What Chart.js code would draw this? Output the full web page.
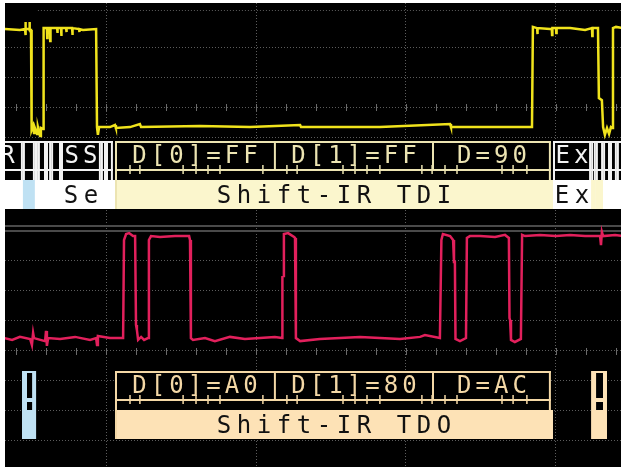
<!DOCTYPE html>
<html>
<head>
<meta charset="utf-8">
<script src="https://cdn.jsdelivr.net/npm/chart.js@4.4.1/dist/chart.umd.min.js"></script>
<style>
  html, body { margin: 0; padding: 0; background: #fff; }
  canvas { display: block; }
</style>
</head>
<body>
<canvas id="scope" width="624" height="470"></canvas>
<script>
// time in µs (5 µs per major division), levels in vertical divisions

// ---- channel 1 (yellow) ----
const ch1Time = [-3.40, -2.87, -2.70, -2.69, -2.68, -2.67, -2.56, -2.55, -2.54, -2.50, -2.48,
    -2.43, -2.40, -2.37, -2.30, -2.27, -2.20, -2.17, -2.10, -2.08,
    -1.97, -1.96, -1.95, -1.87, -1.86, -1.85, -1.70, -1.63, -1.62, -1.61, -1.50, -1.49, -1.48,
    -1.33, -1.32, -1.31, -1.13, -1.12, -1.11, -0.90, -0.89, -0.88, -0.77, -0.33, -0.30, -0.27, -0.23,
    0.13, 0.30, 0.33, 0.80, 1.13, 1.17, 3.13, 4.80, 6.47, 6.50, 9.13, 11.47, 11.50, 13.13, 14.20, 14.23,
    14.37, 14.38, 14.39, 14.80, 14.86, 14.87, 14.88, 15.00, 15.01, 15.02, 15.47, 15.97, 16.20, 16.21, 16.22, 16.40,
    16.43, 16.53, 16.57, 16.63, 16.70, 16.77, 16.83, 16.87, 16.90, 17.00, 17.27];
const ch1Level = [3.60, 3.57, 3.60, 3.83, 3.40, 3.60, 3.60, 3.83, 3.57, 3.57, 0.23,
    0.37, 0.13, 0.30, 0.10, 0.33, 0.03, 0.30, 0.27, 3.63,
    3.63, 3.30, 3.63, 3.63, 3.20, 3.63, 3.63, 3.63, 3.47, 3.63, 3.63, 3.37, 3.63,
    3.63, 3.50, 3.63, 3.63, 3.40, 3.63, 3.60, 3.50, 3.60, 3.57, 3.60, 0.33, 0.07, 0.33,
    0.33, 0.40, 0.30, 0.33, 0.43, 0.33, 0.37, 0.33, 0.40, 0.33, 0.33, 0.43, 0.33, 0.33, 0.33, 3.67,
    3.63, 3.43, 3.63, 3.60, 3.60, 3.40, 3.63, 3.63, 3.47, 3.63, 3.63, 3.57, 3.63, 3.37, 3.63, 3.63,
    1.30, 1.23, 0.33, 0.07, 0.30, 0.10, 0.33, 0.30, 3.63, 3.67, 3.63];

// ---- channel 2 (pink) ----
const ch2Time = [-3.40, -3.13, -2.87, -2.53, -2.47, -2.43, -2.40, -2.03, -2.00, -1.97, -1.93,
    -1.53, -1.03, -0.53, -0.33, -0.30, -0.27, 0.13, 0.57,
    0.60, 0.67, 0.77, 0.90, 0.97, 1.00, 1.03, 1.07, 1.17, 1.27, 1.40,
    1.43, 1.50, 1.80, 2.30, 2.77, 2.80, 2.83, 2.90, 3.30, 3.63, 4.13, 4.63, 5.13, 5.63, 5.87,
    5.88, 5.92, 5.93, 6.07, 6.27, 6.30, 6.33, 6.47, 7.13, 7.80, 8.47, 9.13, 9.80, 10.47, 10.63, 11.13,
    11.18, 11.23, 11.47, 11.57, 11.60, 11.63, 11.65, 11.80, 12.00,
    12.03, 12.13, 12.47, 12.97, 13.30, 13.43, 13.45, 13.47, 13.50, 13.63, 13.83,
    13.87, 13.97, 14.47, 15.00, 15.47, 15.97, 16.47, 16.50, 16.53, 16.57, 16.97, 17.27];
const ch2Level = [0.43, 0.37, 0.47, 0.40, 0.20, 0.60, 0.43, 0.33, 0.67, 0.17, 0.43,
    0.40, 0.47, 0.37, 0.43, 0.20, 0.50, 0.43, 0.43,
    3.70, 3.90, 3.93, 3.83, 3.83, 0.87, 0.70, 0.37, 0.47, 0.37, 0.43,
    3.70, 3.83, 3.80, 3.83, 3.83, 3.70, 0.43, 0.37, 0.43, 0.33, 0.47, 0.40, 0.43, 0.47, 0.43,
    2.47, 2.50, 3.90, 3.93, 3.80, 3.77, 0.43, 0.33, 0.40, 0.43, 0.47, 0.43, 0.40, 0.47, 0.53, 0.43,
    3.70, 3.90, 3.83, 3.70, 2.97, 2.97, 0.40, 0.33, 0.43,
    3.77, 3.83, 3.83, 3.80, 3.87, 3.77, 1.10, 1.03, 0.37, 0.30, 0.40,
    3.87, 3.83, 3.87, 3.83, 3.87, 3.83, 3.83, 3.53, 3.97, 3.83, 3.87, 3.83];

// ---- JTAG decode (TDI bus under ch1, TDO bus under ch2) ----
const tdiStateStart = [-3.80, -2.77, -2.37, -2.27, -2.00, -1.83, -1.50, -0.17, 0.00, 14.90, 16.17, 16.33, 16.57, 16.80, 17.03];
const tdiStateEnd   = [-2.77, -2.37, -2.27, -2.00, -1.83, -1.50, -0.17, 0.00, 0.23, 16.17, 16.33, 16.57, 16.80, 17.03, 17.80];
const tdiStateShort = ['R', '', '', '', '', '', 'SS', '', '', 'Ex', '', '', '', '', ''];
const tdiStateLong  = ['', '', '', '', '', '', 'Se', '', '', 'Ex', '', '', '', '', ''];
const tdiStateKind  = ['idle', 'updDR', 'scan', 'scan', 'scan', 'scan', 'scan', 'scan', 'scan', 'exit', 'updIR', 'updIR', 'scan', 'scan', 'scan'];

const tdoStateStart = [-2.80, 16.17];
const tdoStateEnd   = [-2.33, 16.70];
const tdoStateKind  = ['updDR', 'updIR'];

const wordStart = [0.30, 5.63, 10.90];
const wordEnd   = [5.63, 10.90, 14.83];
const tdiWords  = ['D[0]=FF', 'D[1]=FF', 'D=90'];
const tdoWords  = ['D[0]=A0', 'D[1]=80', 'D=AC'];
const shiftStart = 0.30;
const shiftEnd = 14.90;
const tdiShiftLabel = 'Shift-IR TDI';
const tdoShiftLabel = 'Shift-IR TDO';
const clockEdges = [0.80, 1.13, 2.57, 3.00, 3.40, 3.80, 5.23, 6.03, 6.37, 7.90, 8.30, 8.70, 9.13,
    10.53, 10.87, 11.30, 11.70, 13.20, 13.57, 14.03];

// graticule
const xGrid = [0, 5, 10, 15];
const ch2Grid = [-3, -2, -1, 0, 1, 2, 3];
const ch1Grid = [0, 1, 2, 3];
const minorTicks = [-3, -2, -1, 0, 1, 2, 3, 4, 5, 6, 7, 8, 9, 10, 11, 12, 13, 14, 15, 16, 17];

const KIND_FILL = { idle: '#ffffff', scan: '#ffffff', exit: '#ffffff', updDR: '#bfe1f3', updIR: '#fbf6cd' };
const TDI_COLOR = '#ece4b2';
const TDI_FILL = '#fbf6cd';
const TDO_COLOR = '#f4d8a6';
const TDO_FILL = '#fde2b6';
const FONT = '24px "DejaVu Sans Mono", monospace';

function spacedText(ctx, str, cx, y, pitch) {
    let x = cx - pitch * (str.length - 1) / 2;
    for (const ch of str) {
        ctx.fillText(ch, x, y);
        x += pitch;
    }
}

function hline(ctx, x0, x1, y) {
    ctx.beginPath(); ctx.moveTo(x0, y); ctx.lineTo(x1, y); ctx.stroke();
}
function vline(ctx, x, y0, y1) {
    ctx.beginPath(); ctx.moveTo(x, y0); ctx.lineTo(x, y1); ctx.stroke();
}

function drawWords(ctx, xs, bus, labels, color, fill, groupLabel) {
    const g0 = xs.getPixelForValue(shiftStart);
    const g1 = xs.getPixelForValue(shiftEnd);
    const w1 = xs.getPixelForValue(wordEnd[wordEnd.length - 1]);
    ctx.fillStyle = '#000';
    ctx.fillRect(g0, bus.top, w1 - g0, bus.sep - bus.top);
    ctx.fillStyle = fill;
    ctx.fillRect(g0, bus.sep, g1 - g0, bus.bottom - bus.sep);

    ctx.strokeStyle = color;
    ctx.lineWidth = 2;
    hline(ctx, g0, w1, bus.top + 1);
    hline(ctx, g0, w1, bus.mid);
    vline(ctx, g0 + 1, bus.top, bus.bottom);
    vline(ctx, w1 - 1, bus.top, bus.sep);
    for (let i = 1; i < wordStart.length; i++) {
        vline(ctx, xs.getPixelForValue(wordStart[i]), bus.top, bus.mid);
    }
    ctx.lineWidth = 1.5;
    clockEdges.forEach(t => {
        const px = xs.getPixelForValue(t);
        vline(ctx, px, bus.mid - 5, bus.mid + 4);
    });

    ctx.font = FONT;
    ctx.textAlign = 'center';
    ctx.textBaseline = 'alphabetic';
    ctx.fillStyle = color;
    labels.forEach((s, i) => {
        const cx = (xs.getPixelForValue(wordStart[i]) + xs.getPixelForValue(wordEnd[i])) / 2;
        spacedText(ctx, s, cx, bus.top + 22, 18.5);
    });
    ctx.fillStyle = '#111';
    spacedText(ctx, groupLabel, (g0 + g1) / 2, bus.bottom - 6, 20);
}

const scopePlugin = {
    id: 'scope',
    beforeDraw(chart) {
        const { ctx, chartArea: a } = chart;
        ctx.save();
        ctx.fillStyle = '#000';
        ctx.fillRect(a.left, a.top, a.right - a.left, a.bottom - a.top);
        ctx.restore();
    },
    beforeDatasetsDraw(chart) {
        const { ctx, chartArea: a } = chart;
        const xs = chart.scales.x, y = chart.scales.y, y2 = chart.scales.y2;
        ctx.save();
        ctx.beginPath();
        ctx.rect(a.left, a.top, a.right - a.left, a.bottom - a.top);
        ctx.clip();

        // minor ticks on the centre lines
        ctx.strokeStyle = '#6a6a6a';
        ctx.lineWidth = 1;
        [y.getPixelForValue(0), y2.getPixelForValue(1)].forEach(py => {
            minorTicks.forEach(t => vline(ctx, Math.round(xs.getPixelForValue(t)) + 0.5, py - 3, py + 4));
        });

        // marker line near the top
        ctx.setLineDash([1, 2]);
        ctx.strokeStyle = '#5c5c5c';
        hline(ctx, xs.getPixelForValue(-2.27), a.right, Math.round(y2.getPixelForValue(4.23)) + 0.5);
        ctx.setLineDash([]);

        // channel separator
        ctx.strokeStyle = '#4a4a4a';
        ctx.lineWidth = 2;
        hline(ctx, a.left, a.right, y.getPixelForValue(4.17));
        hline(ctx, a.left, a.right, y.getPixelForValue(4.0));

        // TDI bus
        const tdi = { top: 141, mid: 170, sep: 180, bottom: 209 };
        ctx.fillStyle = '#000';
        ctx.fillRect(a.left, tdi.top, a.right - a.left, tdi.sep - tdi.top);
        ctx.fillStyle = '#fff';
        ctx.fillRect(a.left, tdi.sep, a.right - a.left, tdi.bottom - tdi.sep);
        ctx.font = FONT;
        ctx.textAlign = 'center';
        tdiStateStart.forEach((t0, i) => {
            const x0 = xs.getPixelForValue(t0), x1 = xs.getPixelForValue(tdiStateEnd[i]);
            ctx.fillStyle = KIND_FILL[tdiStateKind[i]];
            ctx.fillRect(x0, tdi.sep, x1 - x0, tdi.bottom - tdi.sep);
            ctx.strokeStyle = '#f2f2f2';
            ctx.lineWidth = 2;
            hline(ctx, x0, x1, tdi.top + 1);
            hline(ctx, x0, x1, tdi.mid);
            vline(ctx, x0 + 1, tdi.top, tdi.sep);
            vline(ctx, x1 - 1, tdi.top, tdi.sep);
            ctx.fillStyle = '#f2f2f2';
            spacedText(ctx, tdiStateShort[i], (x0 + x1) / 2, tdi.top + 22, 18.5);
            ctx.fillStyle = '#111';
            spacedText(ctx, tdiStateLong[i], (x0 + x1) / 2, tdi.bottom - 6, 20);
        });
        drawWords(ctx, xs, tdi, tdiWords, TDI_COLOR, TDI_FILL, tdiShiftLabel);

        // TDO bus
        const tdo = { top: 371, mid: 400, sep: 410, bottom: 439 };
        tdoStateStart.forEach((t0, i) => {
            const x0 = xs.getPixelForValue(t0), x1 = xs.getPixelForValue(tdoStateEnd[i]);
            const w = x1 - x0;
            ctx.fillStyle = tdoStateKind[i] === 'updDR' ? '#bfe1f3' : TDO_FILL;
            ctx.fillRect(x0, tdo.top, w, tdo.bottom - tdo.top);
            ctx.fillStyle = '#000';
            ctx.fillRect(x0 + 5, tdo.top + 2, w - 9, tdo.mid - tdo.top - 4);
            ctx.fillRect(x0 + 5, tdo.mid + 2, w - 9, tdo.sep - tdo.mid - 2);
        });
        drawWords(ctx, xs, tdo, tdoWords, TDO_COLOR, TDO_FILL, tdoShiftLabel);

        ctx.restore();
    }
};

function gridAxis(min, max, values, position, isX) {
    return {
        type: 'linear',
        position: position,
        min: min,
        max: max,
        afterBuildTicks: ax => { ax.ticks = values.map(v => ({ value: v })); },
        afterFit: ax => { if (isX) ax.height = 0; else ax.width = 0; },
        ticks: { display: false },
        grid: { color: '#5c5c5c', lineWidth: 1, drawTicks: false },
        border: { display: false, dash: [1, 2] }
    };
}

new Chart(document.getElementById('scope'), {
    type: 'line',
    data: {
        datasets: [
            {
                label: 'CH1',
                data: ch1Time.map((t, i) => ({ x: t, y: ch1Level[i] })),
                yAxisID: 'y2',
                borderColor: '#f0e31c',
                borderWidth: 2.5,
                pointRadius: 0,
                tension: 0
            },
            {
                label: 'CH2',
                data: ch2Time.map((t, i) => ({ x: t, y: ch2Level[i] })),
                yAxisID: 'y',
                borderColor: '#e2205c',
                borderWidth: 2.5,
                pointRadius: 0,
                tension: 0
            }
        ]
    },
    options: {
        responsive: false,
        animation: false,
        devicePixelRatio: 1,
        layout: { padding: { left: 5, top: 3, right: 3, bottom: 3 } },
        plugins: { legend: { display: false }, tooltip: { enabled: false } },
        scales: {
            x: gridAxis(-3.367, 17.167, xGrid, 'bottom', true),
            y: gridAxis(-3.867, 11.6, ch2Grid, 'left', false),
            y2: gridAxis(-11.0, 4.467, ch1Grid, 'right', false)
        }
    },
    plugins: [scopePlugin]
});
</script>
</body>
</html>
